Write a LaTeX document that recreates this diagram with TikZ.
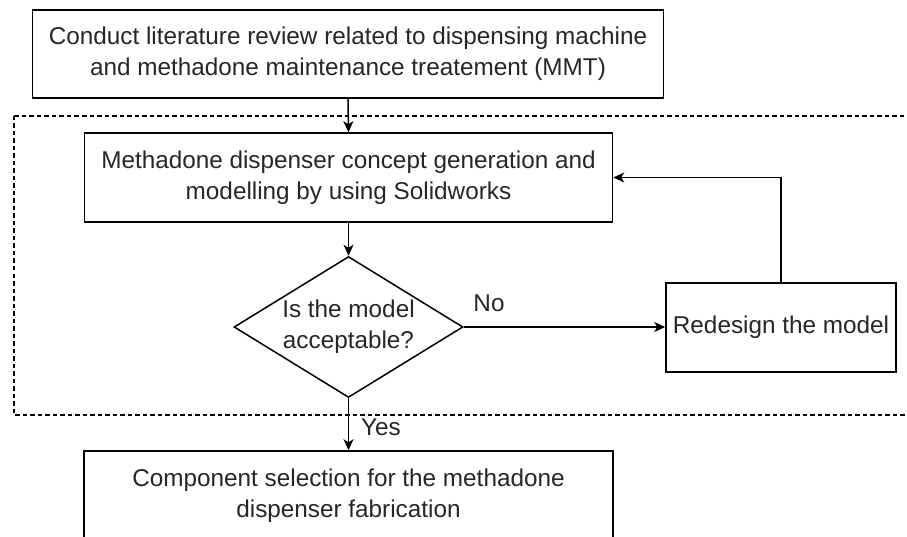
\documentclass[tikz,border=0pt]{standalone}
\usepackage{fontspec}
\setmainfont{Liberation Sans}
\usetikzlibrary{shapes.geometric,arrows.meta}
\begin{document}
\begin{tikzpicture}[x=1pt,y=-1pt,
  txt/.style={font=\fontsize{24.3}{31}\selectfont, text=black!85},
  procbox/.style={txt, draw, line width=1.5pt, align=center, inner sep=0pt},
  decbox/.style={txt, draw, diamond, aspect=1.62, line width=1.5pt, align=center, inner sep=0pt,
    minimum width=229pt, minimum height=141pt},
  arr/.style={line width=1.5pt, -{Stealth[length=11pt,width=10pt,inset=3pt]}},
  grouping/.style={line width=1.2pt, dash pattern=on 4.5pt off 3pt}]
\useasboundingbox (0,0) rectangle (907,537);
\clip (0,0) rectangle (907,537);

% dashed frame around the design loop
\draw[grouping] (14,116) rectangle (925,415);

% process steps
\node[procbox, minimum width=631pt, minimum height=88pt] (review) at (348,54)
  {Conduct literature review related to dispensing machine\\and methadone maintenance treatement (MMT)};
\node[procbox, minimum width=528pt, minimum height=89pt] (concept) at (348.5,177.5)
  {Methadone dispenser concept generation and\\modelling by using Solidworks};
\node[decbox] (accept) at (348.5,327) {Is the model\\acceptable?};
\node[procbox, minimum width=230pt, minimum height=89pt] (redesign) at (781,327.5)
  {Redesign the model};
\node[procbox, minimum width=529pt, minimum height=89pt] (select) at (348.5,495.5)
  {Component selection for the methadone\\dispenser fabrication};

% connectors
\draw[arr] (review.south) -- (concept.north);
\draw[arr] (concept.south) -- (accept.north);
\draw[arr] (accept.east) -- (accept.east -| redesign.west);
\draw[arr] (redesign.north) |- (concept.east);
\draw[arr] (accept.south) -- (select.north);

% branch labels
\node[txt] (nolbl) at (489,303) {No};
\node[txt] (yeslbl) at (381,427) {Yes};
\end{tikzpicture}
\end{document}
